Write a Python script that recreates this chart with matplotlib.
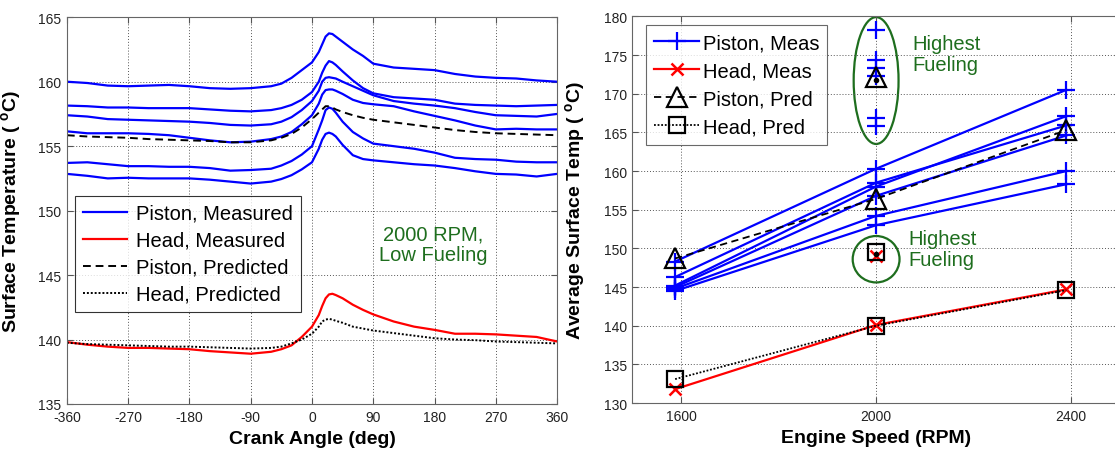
import matplotlib
matplotlib.use("Agg")
import matplotlib.pyplot as plt
from matplotlib.patches import Ellipse

plt.rcParams['font.family'] = ['Liberation Sans', 'DejaVu Sans']
plt.rcParams['mathtext.default'] = 'regular'
plt.rcParams['axes.unicode_minus'] = False

# ---- left panel: crank-angle resolved surface temperature ----
angle = [-360, -330, -300, -270, -240, -210, -180, -150, -120, -90, -60, -45, -30, -15,
         0, 10, 15, 20, 25, 30, 35, 45, 60, 75, 90, 120, 150, 180, 210, 240, 270, 300, 330, 360]

piston_meas = [
    [160.0, 159.9, 159.7, 159.65, 159.7, 159.75, 159.65, 159.5, 159.45, 159.5, 159.65, 159.85, 160.3, 160.9,
     161.5, 162.3, 162.9, 163.5, 163.75, 163.7, 163.5, 163.1, 162.5, 162.0, 161.4, 161.1, 161.0, 160.9,
     160.6, 160.4, 160.3, 160.25, 160.1, 160.0],
    [158.15, 158.1, 158.0, 158.0, 157.95, 157.95, 157.95, 157.85, 157.75, 157.7, 157.8, 157.95, 158.2, 158.6,
     159.2, 160.0, 160.7, 161.25, 161.6, 161.5, 161.3, 160.8, 160.1, 159.5, 159.1, 158.8, 158.7, 158.6,
     158.3, 158.2, 158.15, 158.1, 158.15, 158.2],
    [157.4, 157.3, 157.1, 157.05, 157.0, 156.95, 156.9, 156.8, 156.65, 156.6, 156.7, 156.9, 157.25, 157.8,
     158.5, 159.3, 160.0, 160.3, 160.35, 160.3, 160.25, 160.0, 159.65, 159.3, 158.95, 158.5, 158.3, 158.15,
     157.95, 157.65, 157.4, 157.35, 157.3, 157.5],
    [156.15, 156.0, 156.0, 156.0, 155.95, 155.85, 155.65, 155.45, 155.3, 155.35, 155.55, 155.75, 156.1, 156.7,
     157.4, 158.3, 159.0, 159.35, 159.4, 159.4, 159.3, 159.05, 158.6, 158.35, 158.25, 158.1, 157.7, 157.35,
     157.0, 156.6, 156.3, 156.35, 156.3, 156.3],
    [153.7, 153.75, 153.6, 153.45, 153.45, 153.4, 153.4, 153.3, 153.1, 153.15, 153.25, 153.5, 153.85, 154.35,
     155.0, 156.3, 157.0, 157.8, 158.0, 157.9, 157.6, 156.9, 156.1, 155.6, 155.2, 155.0, 154.8, 154.5,
     154.1, 154.0, 153.95, 153.8, 153.75, 153.75],
    [152.85, 152.7, 152.5, 152.55, 152.5, 152.5, 152.5, 152.4, 152.25, 152.1, 152.25, 152.45, 152.75, 153.2,
     153.75, 154.8, 155.5, 155.95, 156.05, 155.95, 155.75, 155.1, 154.3, 154.0, 153.9, 153.75, 153.6, 153.5,
     153.3, 153.05, 152.85, 152.8, 152.65, 152.85],
]
piston_pred = [155.85, 155.75, 155.7, 155.65, 155.55, 155.5, 155.45, 155.4, 155.3, 155.3, 155.45, 155.65, 155.95, 156.45,
               157.1, 157.6, 157.85, 158.1, 158.1, 158.0, 157.85, 157.65, 157.4, 157.2, 157.05, 156.85, 156.65, 156.45,
               156.25, 156.1, 156.0, 155.95, 155.9, 155.85]
head_meas = [139.8, 139.6, 139.45, 139.35, 139.35, 139.3, 139.25, 139.1, 139.0, 138.9, 139.05, 139.25, 139.55, 140.2,
             141.0, 141.9, 142.6, 143.2, 143.5, 143.55, 143.45, 143.2, 142.7, 142.3, 141.95, 141.4, 141.0, 140.75,
             140.45, 140.45, 140.4, 140.3, 140.2, 139.85]
head_pred = [139.75, 139.65, 139.6, 139.55, 139.5, 139.45, 139.45, 139.4, 139.35, 139.3, 139.35, 139.45, 139.7, 140.0,
             140.45, 141.0, 141.4, 141.55, 141.6, 141.55, 141.45, 141.3, 141.0, 140.85, 140.7, 140.5, 140.3, 140.1,
             140.0, 139.95, 139.85, 139.8, 139.75, 139.7]

# ---- right panel: cycle-averaged surface temperature vs speed ----
speed = [1588, 2000, 2390]
avg_piston_meas = [
    [148.3, 160.3, 170.5],
    [146.3, 158.5, 165.9],
    [145.2, 158.0, 167.1],
    [145.0, 156.8, 164.6],
    [144.8, 154.2, 160.0],
    [144.5, 153.0, 158.3],
]
avg_piston_pred = [148.7, 156.4, 165.3]
avg_head_meas = [131.8, 140.1, 144.7]
avg_head_pred = [133.1, 140.0, 144.6]

# highest fueling points, all at 2000 rpm
hf_speed = 2000
hf_piston_meas = [178.3, 174.4, 173.3, 172.3, 166.9, 165.8]
hf_piston_pred = 172.2
hf_head_meas = 149.0
hf_head_pred = 149.5
hf_dots = [171.8, 149.3]

green = '#1e6e1e'
grid_kw = dict(color='#555555', linestyle=(0, (1, 2)), linewidth=0.7)
lab_fs = 14
txt_fs = 14.5

fig = plt.figure(figsize=(11.15, 4.52), dpi=100)
ax1 = fig.add_axes([0.060, 0.104, 0.4396, 0.8556])
ax2 = fig.add_axes([0.567, 0.106, 0.4375, 0.8556])

# left
for i, vals in enumerate(piston_meas):
    ax1.plot(angle, vals, color='#0000ff', lw=1.6, label='Piston, Measured' if i == 0 else None)
ax1.plot(angle, head_meas, color='#ff0000', lw=1.6, label='Head, Measured')
ax1.plot(angle, piston_pred, color='black', lw=1.4, ls=(0, (4, 2.5)), label='Piston, Predicted')
ax1.plot(angle, head_pred, color='black', lw=1.4, ls=(0, (1, 1)), label='Head, Predicted')
ax1.set_xlim(-360, 360)
ax1.set_ylim(135, 165)
ax1.set_xticks(range(-360, 361, 90))
ax1.set_yticks(range(135, 166, 5))
ax1.grid(True, **grid_kw)
ax1.set_xlabel('Crank Angle (deg)', fontsize=lab_fs, fontweight='bold')
ax1.set_ylabel('Surface Temperature ( $^{o}$C)', fontsize=lab_fs, fontweight='bold')
ax1.xaxis.set_label_coords(0.5, -0.066)
ax1.yaxis.set_label_coords(-0.09, 0.5)
ax1.text(178, 147.4, '2000 RPM,\nLow Fueling', color=green, fontsize=txt_fs, ha='center', va='center',
         linespacing=1.15)
leg1 = ax1.legend(loc='lower left', bbox_to_anchor=(0.016, 0.238), fontsize=txt_fs, frameon=True,
                  fancybox=False, edgecolor='black', handlelength=2.2, handletextpad=0.45,
                  borderpad=0.4, labelspacing=0.4, borderaxespad=0)
leg1.get_frame().set_linewidth(0.8)

# right
for i, vals in enumerate(avg_piston_meas):
    ax2.plot(speed, vals, color='#0000ff', lw=1.6, marker='+', ms=13, mew=1.6,
             label='Piston, Meas' if i == 0 else None)
ax2.plot([hf_speed] * len(hf_piston_meas), hf_piston_meas, ls='none', color='#0000ff',
         marker='+', ms=13, mew=1.6)
ax2.plot(speed, avg_head_meas, color='#ff0000', lw=1.6, marker='x', ms=8, mew=1.8, label='Head, Meas')
ax2.plot([hf_speed], [hf_head_meas], ls='none', color='#ff0000', marker='x', ms=8, mew=1.8)
ax2.plot(speed, avg_piston_pred, color='black', lw=1.3, ls=(0, (4, 2.5)), marker='^', ms=14,
         mfc='none', mew=1.6, label='Piston, Pred')
ax2.plot([hf_speed], [hf_piston_pred], ls='none', color='black', marker='^', ms=14, mfc='none', mew=1.6)
ax2.plot(speed, avg_head_pred, color='black', lw=1.3, ls=(0, (1, 1)), marker='s', ms=12,
         mfc='none', mew=1.6, label='Head, Pred')
ax2.plot([hf_speed], [hf_head_pred], ls='none', color='black', marker='s', ms=12, mfc='none', mew=1.6)
ax2.plot([hf_speed] * len(hf_dots), hf_dots, ls='none', color='black', marker='o', ms=3)

ax2.add_patch(Ellipse((2000, 171.7), 92, 16.4, fill=False, edgecolor=green, lw=1.6))
ax2.add_patch(Ellipse((2000, 148.6), 96, 6.0, fill=False, edgecolor=green, lw=1.6))
ax2.text(2074, 175.1, 'Highest\nFueling', color=green, fontsize=txt_fs, ha='left', va='center',
         linespacing=1.15)
ax2.text(2066, 149.9, 'Highest\nFueling', color=green, fontsize=txt_fs, ha='left', va='center',
         linespacing=1.15)

ax2.set_xlim(1500, 2500)
ax2.set_ylim(130, 180)
ax2.set_xticks([1600, 2000, 2400])
ax2.set_yticks(range(130, 181, 5))
ax2.grid(True, **grid_kw)
ax2.set_xlabel('Engine Speed (RPM)', fontsize=lab_fs, fontweight='bold')
ax2.set_ylabel('Average Surface Temp ( $^{o}$C)', fontsize=lab_fs, fontweight='bold')
ax2.xaxis.set_label_coords(0.5, -0.066)
ax2.yaxis.set_label_coords(-0.092, 0.5)
leg2 = ax2.legend(loc='upper left', bbox_to_anchor=(0.029, 0.977), fontsize=txt_fs, frameon=True,
                  fancybox=False, edgecolor='#444444', numpoints=1, handlelength=2.2,
                  handletextpad=0.2, borderpad=0.4, labelspacing=0.45, borderaxespad=0)
leg2.get_frame().set_linewidth(0.8)

for ax in (ax1, ax2):
    ax.tick_params(direction='in', length=4, labelsize=10, colors='#222222', top=True, right=True)
    ax.tick_params(axis='x', pad=4.5)
    ax.tick_params(axis='y', pad=4)
    ax.tick_params(axis='both', color='#555555')
    for s in ax.spines.values():
        s.set_color('#666666')
        s.set_linewidth(0.8)

fig.savefig('out.png', dpi=100)
